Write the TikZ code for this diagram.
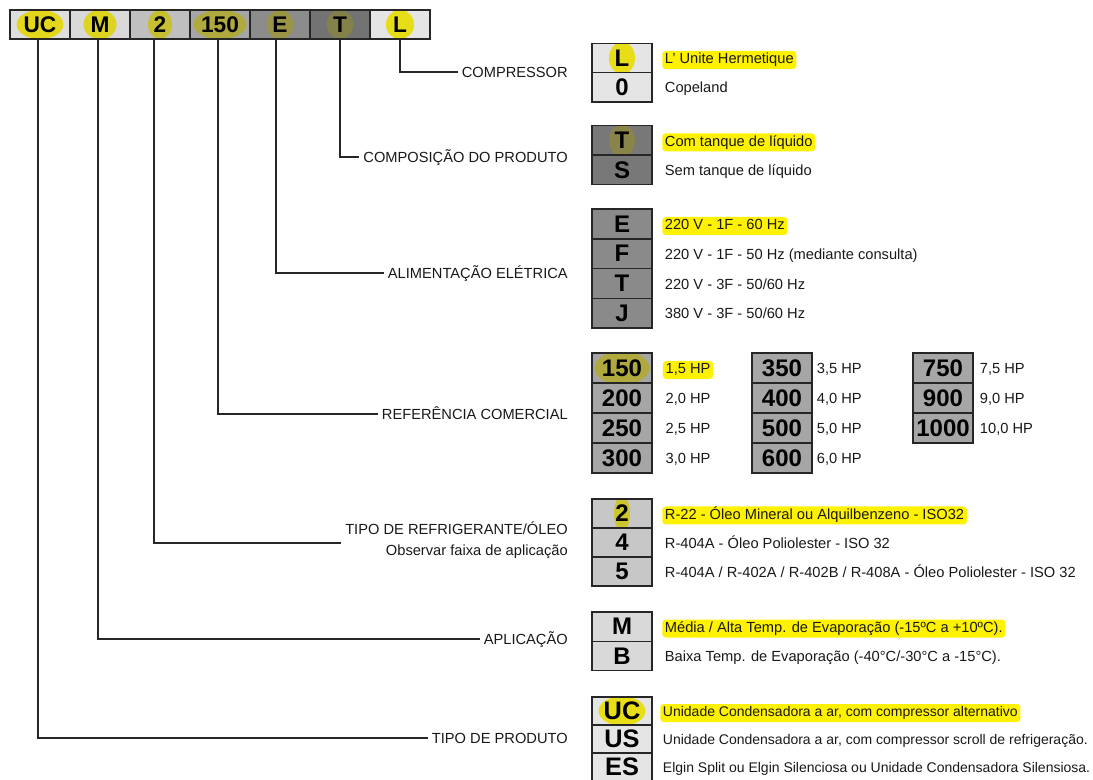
\documentclass[tikz,border=0pt]{standalone}
\usepackage{fontspec}
\setmainfont{Liberation Sans}
\usetikzlibrary{positioning}

\begin{document}
\begin{tikzpicture}[
  x=0.75pt, y=-0.75pt,
  every node/.style = {font=\fontsize{11}{13}\selectfont, text=black!90},
  cell/.style = {draw=black!85, line width=1pt, minimum width=45pt,
                 inner sep=0pt, outer sep=0pt, text=black,
                 font=\fontsize{18}{20}\selectfont\bfseries},
  topcell/.style = {cell, minimum height=21.75pt, line width=1.2pt,
                    font=\fontsize{17}{19}\selectfont\bfseries},
  glow/.style n args = {3}{path picture={
      \fill[#1] (path picture bounding box.center)
        ellipse [x radius=#2, y radius=#3];}},
  caption/.style = {anchor=east, inner xsep=3pt, inner ysep=0pt,
                    text height=8pt, text depth=0pt},
  desc/.style = {anchor=west, inner xsep=2pt, inner ysep=1.5pt, yshift=-1.5pt,
                 text height=8pt, text depth=2.5pt, rounded corners=2.5pt},
  pick/.style = {desc, fill=yellow},
  leader/.style = {line width=1pt, black!85},
]
\useasboundingbox (0,0) rectangle (1093,780);

%% ── Code bar (top) ───────────────────────────────────────────────────────────
\node[topcell, fill=black!13, glow={yellow!87!black}{17.6pt}{11pt},
      anchor=north west] (tUC) at (10,10) {UC};
\node[topcell, fill=black!15, glow={yellow!85!black}{12.4pt}{11pt},
      right=0pt of tUC] (tM) {M};
\node[topcell, fill=black!25, glow={yellow!75!black}{9pt}{11pt},
      right=0pt of tM] (t2) {2};
\node[topcell, fill=black!35, glow={yellow!65!black}{19.9pt}{11pt},
      right=0pt of t2] (t150) {150};
\node[topcell, fill=black!45, glow={yellow!55!black}{10pt}{11pt},
      right=0pt of t150] (tE) {E};
\node[topcell, fill=black!55, glow={yellow!45!black}{10pt}{11pt},
      right=0pt of tE] (tT) {T};
\node[topcell, fill=black!10, glow={yellow!90!black}{10.5pt}{11pt},
      right=0pt of tT] (tL) {L};

%% ── Captions (middle) ────────────────────────────────────────────────────────
\node[caption] (lblComp) at (572,72) {COMPRESSOR};
\node[caption] (lblProd) at (572,157) {COMPOSIÇÃO DO PRODUTO};
\node[caption] (lblPower) at (572,273) {ALIMENTAÇÃO ELÉTRICA};
\node[caption] (lblRef) at (572,414) {REFERÊNCIA COMERCIAL};
\node[anchor=east, inner xsep=3pt, inner ysep=0pt, align=right,
      font=\fontsize{11}{15.75}\selectfont] (lblOil) at (572,540)
  {TIPO DE REFRIGERANTE/ÓLEO\\Observar faixa de aplicação};
\node[caption] (lblUse) at (572,639) {APLICAÇÃO};
\node[caption] (lblType) at (572,738) {TIPO DE PRODUTO};

%% ── Leaders ──────────────────────────────────────────────────────────────────
\draw[leader] (tL.south) |- (lblComp.west);
\draw[leader] (tT.south) |- (lblProd.west);
\draw[leader] ([xshift=-3pt]tE.south) |- (lblPower.west);
\draw[leader] ([xshift=-1.5pt]t150.south) |- (lblRef.west);
\draw[leader] ([xshift=-4.5pt]t2.south) |- ([yshift=-2.25pt]lblOil.west);
\draw[leader] ([xshift=-1.5pt]tM.south) |- (lblUse.west);
\draw[leader] ([xshift=-1.5pt]tUC.south) |- (lblType.west);

%% ── Compressor ───────────────────────────────────────────────────────────────
\node[cell, minimum height=22pt, fill=black!10,
      glow={yellow!90!black}{9.75pt}{12pt}] (cL) at (622,58) {L};
\node[cell, minimum height=22pt, fill=black!10, below=0pt of cL] (c0) {0};
\node[pick, right=7.5pt of cL] (dL) {L' Unite Hermetique};
\node[desc, right=7.5pt of c0] (d0) {Copeland};

%% ── Composição do produto ────────────────────────────────────────────────────
\node[cell, minimum height=22pt, fill=black!53,
      glow={yellow!47!black}{9.75pt}{12pt}] (cT) at (622,140.5) {T};
\node[cell, minimum height=22pt, fill=black!53, below=0pt of cT] (cS) {S};
\node[pick, right=7.5pt of cT] (dT) {Com tanque de líquido};
\node[desc, right=7.5pt of cS] (dS) {Sem tanque de líquido};

%% ── Alimentação elétrica ─────────────────────────────────────────────────────
\node[cell, minimum height=22.3pt, fill=black!46] (cE) at (622,224) {E};
\node[cell, minimum height=22.3pt, fill=black!46, below=0pt of cE] (cF) {F};
\node[cell, minimum height=22.3pt, fill=black!46, below=0pt of cF] (cTri) {T};
\node[cell, minimum height=22.3pt, fill=black!46, below=0pt of cTri] (cJ) {J};
\node[pick, right=7.5pt of cE] (dE) {220 V - 1F - 60 Hz};
\node[desc, right=7.5pt of cF] (dF) {220 V - 1F - 50 Hz (mediante consulta)};
\node[desc, right=7.5pt of cTri] (dTri) {220 V - 3F - 50/60 Hz};
\node[desc, right=7.5pt of cJ] (dJ) {380 V - 3F - 50/60 Hz};

%% ── Referência comercial ─────────────────────────────────────────────────────
\node[cell, minimum height=22.5pt, fill=black!35,
      glow={yellow!65!black}{20.6pt}{12.5pt}] (c150) at (622,368) {150};
\node[cell, minimum height=22.5pt, fill=black!35, below=0pt of c150] (c200) {200};
\node[cell, minimum height=22.5pt, fill=black!35, below=0pt of c200] (c250) {250};
\node[cell, minimum height=22.5pt, fill=black!35, below=0pt of c250] (c300) {300};
\node[cell, minimum height=22.5pt, fill=black!35] (c350) at (782,368) {350};
\node[cell, minimum height=22.5pt, fill=black!35, below=0pt of c350] (c400) {400};
\node[cell, minimum height=22.5pt, fill=black!35, below=0pt of c400] (c500) {500};
\node[cell, minimum height=22.5pt, fill=black!35, below=0pt of c500] (c600) {600};
\node[cell, minimum height=22.5pt, fill=black!35] (c750) at (943,368) {750};
\node[cell, minimum height=22.5pt, fill=black!35, below=0pt of c750] (c900) {900};
\node[cell, minimum height=22.5pt, fill=black!35, below=0pt of c900] (c1000) {1000};
\node[pick, right=8pt of c150] (h150) {1,5 HP};
\node[desc, right=8pt of c200] (h200) {2,0 HP};
\node[desc, right=8pt of c250] (h250) {2,5 HP};
\node[desc, right=8pt of c300] (h300) {3,0 HP};
\node[desc, right=1.5pt of c350] (h350) {3,5 HP};
\node[desc, right=1.5pt of c400] (h400) {4,0 HP};
\node[desc, right=1.5pt of c500] (h500) {5,0 HP};
\node[desc, right=1.5pt of c600] (h600) {6,0 HP};
\node[desc, right=3pt of c750] (h750) {7,5 HP};
\node[desc, right=3pt of c900] (h900) {9,0 HP};
\node[desc, right=3pt of c1000] (h1000) {10,0 HP};

%% ── Refrigerante / óleo ──────────────────────────────────────────────────────
\node[cell, minimum height=21.75pt, fill=black!22,
      glow={yellow!78!black}{6pt}{13pt}] (c2) at (622,513.5) {2};
\node[cell, minimum height=21.75pt, fill=black!22, below=0pt of c2] (c4) {4};
\node[cell, minimum height=21.75pt, fill=black!22, below=0pt of c4] (c5) {5};
\node[pick, right=7.5pt of c2] (d2) {R-22 - Óleo Mineral ou Alquilbenzeno - ISO32};
\node[desc, right=7.5pt of c4] (d4) {R-404A - Óleo Poliolester - ISO 32};
\node[desc, right=7.5pt of c5] (d5)
  {R-404A / R-402A / R-402B / R-408A - Óleo Poliolester - ISO 32};

%% ── Aplicação ────────────────────────────────────────────────────────────────
\node[cell, minimum height=22pt, fill=black!15] (cM) at (622,626.5) {M};
\node[cell, minimum height=22pt, fill=black!15, below=0pt of cM] (cB) {B};
\node[pick, right=7.5pt of cM] (dM)
  {Média / Alta Temp. de Evaporação (-15ºC a +10ºC).};
\node[desc, right=7.5pt of cB] (dB)
  {Baixa Temp. de Evaporação (-40°C/-30°C a -15°C).};

%% ── Tipo de produto ──────────────────────────────────────────────────────────
\node[cell, minimum height=21pt, fill=black!10, font=\fontsize{19}{21}\selectfont\bfseries,
      glow={yellow!90!black}{17.6pt}{11pt}] (cUC) at (622,711) {UC};
\node[cell, minimum height=21pt, fill=black!10, font=\fontsize{19}{21}\selectfont\bfseries,
      below=0pt of cUC] (cUS) {US};
\node[cell, minimum height=21pt, fill=black!10, font=\fontsize{19}{21}\selectfont\bfseries,
      below=0pt of cUS] (cES) {ES};
\node[pick, font=\fontsize{10.5}{12}\selectfont, right=6pt of cUC] (dUC)
  {Unidade Condensadora a ar, com compressor alternativo};
\node[desc, font=\fontsize{10.5}{12}\selectfont, right=6pt of cUS] (dUS)
  {Unidade Condensadora a ar, com compressor scroll de refrigeração.};
\node[desc, font=\fontsize{10.5}{12}\selectfont, right=6pt of cES] (dES)
  {Elgin Split ou Elgin Silenciosa ou Unidade Condensadora Silensiosa.};

\end{tikzpicture}
\end{document}
